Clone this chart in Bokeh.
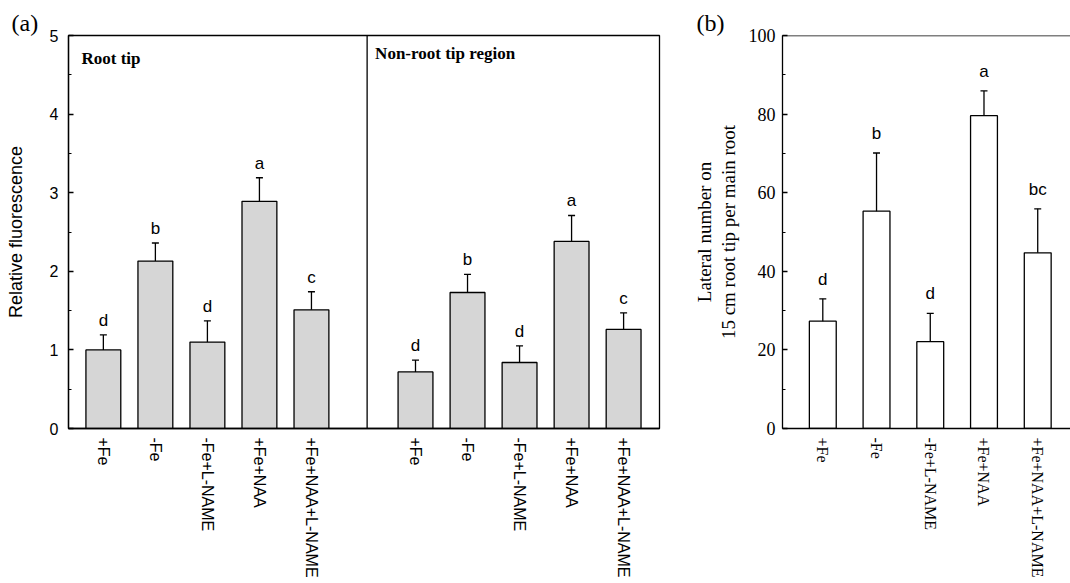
from bokeh.plotting import figure
from bokeh.models import (ColumnDataSource, Whisker, TeeHead, Span, FixedTicker,
                          SingleIntervalTicker, Range1d, Title, LinearAxis)
from bokeh.layouts import row
from bokeh.embed import file_html
from bokeh.resources import INLINE
from bokeh.core.properties import value

# ---------------- data ----------------
treatments = ["+Fe", "-Fe", "-Fe+L-NAME", "+Fe+NAA", "+Fe+NAA+L-NAME"]

root_tip = [1.00, 2.13, 1.10, 2.89, 1.51]
root_tip_err = [0.19, 0.23, 0.27, 0.30, 0.23]
root_tip_sig = ["d", "b", "d", "a", "c"]

nonroot_tip = [0.72, 1.73, 0.84, 2.38, 1.26]
nonroot_tip_err = [0.15, 0.23, 0.21, 0.33, 0.21]
nonroot_tip_sig = ["d", "b", "d", "a", "c"]

lateral = [27.3, 55.3, 22.1, 79.6, 44.7]
lateral_err = [5.7, 14.8, 7.2, 6.3, 11.2]
lateral_sig = ["d", "b", "d", "a", "bc"]

region_titles = ["Root tip", "Non-root tip region"]
y_label_a = "Relative fluorescence"
y_label_b1 = "Lateral number on"
y_label_b2 = "15 cm root tip per main root"

SANS = "Liberation Sans"
SERIF = "Liberation Serif"
H = 583

# ---------------- panel (a) ----------------
n = len(treatments)
xa = [i + 1 for i in range(n)] + [i + 7 for i in range(n)]
vals_a = root_tip + nonroot_tip
errs_a = root_tip_err + nonroot_tip_err
src_a = ColumnDataSource(dict(
    x=xa, top=vals_a,
    upper=[v + e for v, e in zip(vals_a, errs_a)],
    lower=[v - e for v, e in zip(vals_a, errs_a)],
    sig=root_tip_sig + nonroot_tip_sig,
))

xa_start, xa_end, divider = 0.33, 11.69, 6.07

pa = figure(width=690, height=H, output_backend="svg", toolbar_location=None,
            x_range=Range1d(xa_start, xa_end), y_range=Range1d(0, 5),
            min_border_left=68, min_border_right=31, min_border_top=35,
            min_border_bottom=155)
pa.vbar(x="x", top="top", width=0.67, bottom=0, source=src_a,
        fill_color="#d6d6d6", line_color="black", line_width=1.3)
wa = Whisker(base="x", upper="upper", lower="lower", source=src_a,
             line_color="black", line_width=1.3,
             upper_head=TeeHead(size=7, line_color="black", line_width=1.3),
             lower_head=TeeHead(size=7, line_color="black", line_width=1.3))
pa.add_layout(wa)
pa.text(x="x", y="upper", text="sig", source=src_a, text_align="center",
        text_baseline="bottom", y_offset=-5, text_font=value(SANS),
        text_font_size="17px", text_color="black")
pa.add_layout(Span(location=divider, dimension="height", line_color="black", line_width=1.3))
pa.text(x=[xa_start], y=[5], text=[region_titles[0]], x_offset=13, y_offset=13,
        text_baseline="top", text_align="left", text_font=value(SERIF),
        text_font_style="bold", text_font_size="17px", text_color="black")
pa.text(x=[divider], y=[5], text=[region_titles[1]], x_offset=8, y_offset=8,
        text_baseline="top", text_align="left", text_font=value(SERIF),
        text_font_style="bold", text_font_size="17px", text_color="black")

pa.title = Title(text="(a)", align="left", offset=-57, standoff=0,
                 text_font=SERIF, text_font_size="24px", text_font_style="normal",
                 text_color="black")

pa.xaxis.ticker = FixedTicker(ticks=xa)
pa.xaxis.major_label_overrides = {x: t for x, t in zip(xa, treatments + treatments)}
pa.xaxis.major_label_orientation = "vertical"
pa.xaxis.major_label_standoff = 9
pa.xaxis.major_label_text_font = SANS
pa.xaxis.major_label_text_font_size = "16px"
pa.xaxis.major_tick_line_color = None
pa.xaxis.minor_tick_line_color = None
pa.xaxis.major_tick_out = 0
pa.xaxis.major_tick_in = 0
pa.xaxis.minor_tick_out = 0

pa.yaxis.ticker = SingleIntervalTicker(interval=1, num_minor_ticks=2)
pa.yaxis.major_tick_in = 5
pa.yaxis.major_tick_out = 0
pa.yaxis.minor_tick_in = 3
pa.yaxis.minor_tick_out = 0
pa.yaxis.major_label_standoff = 10
pa.yaxis.major_label_text_font = SANS
pa.yaxis.major_label_text_font_size = "16px"
pa.yaxis.axis_label = y_label_a
pa.yaxis.axis_label_text_font = SANS
pa.yaxis.axis_label_text_font_size = "18px"
pa.yaxis.axis_label_text_font_style = "normal"
pa.yaxis.axis_label_standoff = 21

for ax in (pa.xaxis, pa.yaxis):
    ax.axis_line_color = "black"
    ax.axis_line_width = 1.3
    ax.major_tick_line_width = 1.3
    ax.major_label_text_color = "black"
    ax.axis_label_text_color = "black"
pa.xgrid.visible = False
pa.ygrid.visible = False
pa.outline_line_color = "black"
pa.outline_line_width = 1.3
pa.outline_line_alpha = 1

# ---------------- panel (b) ----------------
xb = [i + 1 for i in range(n)]
src_b = ColumnDataSource(dict(
    x=xb, top=lateral,
    upper=[v + e for v, e in zip(lateral, lateral_err)],
    lower=[v - e for v, e in zip(lateral, lateral_err)],
    sig=lateral_sig,
))

pb = figure(width=380, height=H, output_backend="svg", toolbar_location=None,
            x_range=Range1d(0.25, 5.61), y_range=Range1d(0, 100),
            min_border_left=89, min_border_right=0, min_border_top=35,
            min_border_bottom=155)
pb.vbar(x="x", top="top", width=0.5, bottom=0, source=src_b,
        fill_color="white", line_color="black", line_width=1.3)
wb = Whisker(base="x", upper="upper", lower="lower", source=src_b,
             line_color="black", line_width=1.3,
             upper_head=TeeHead(size=7, line_color="black", line_width=1.3),
             lower_head=TeeHead(size=7, line_color="black", line_width=1.3))
pb.add_layout(wb)
pb.text(x="x", y="upper", text="sig", source=src_b, text_align="center",
        text_baseline="bottom", y_offset=-10, text_font=value(SANS),
        text_font_size="17px", text_color="black")
pb.add_layout(Span(location=100, dimension="width", line_color="black", line_width=1.3))

pb.title = Title(text="(b)", align="left", offset=-86, standoff=0,
                 text_font=SERIF, text_font_size="24px", text_font_style="normal",
                 text_color="black")

pb.xaxis.ticker = FixedTicker(ticks=xb)
pb.xaxis.major_label_overrides = {x: t for x, t in zip(xb, treatments)}
pb.xaxis.major_label_orientation = "vertical"
pb.xaxis.major_label_standoff = 9
pb.xaxis.major_label_text_font = SERIF
pb.xaxis.major_label_text_font_size = "16px"
pb.xaxis.major_tick_line_color = None
pb.xaxis.minor_tick_line_color = None
pb.xaxis.major_tick_out = 0
pb.xaxis.major_tick_in = 0
pb.xaxis.minor_tick_out = 0

pb.yaxis.ticker = SingleIntervalTicker(interval=20, num_minor_ticks=2)
pb.yaxis.major_tick_in = 5
pb.yaxis.major_tick_out = 0
pb.yaxis.minor_tick_in = 3
pb.yaxis.minor_tick_out = 0
pb.yaxis.major_label_standoff = 7
pb.yaxis.major_label_text_font = SERIF
pb.yaxis.major_label_text_font_size = "18px"
pb.yaxis.axis_label = y_label_b2
pb.yaxis.axis_label_text_font = SERIF
pb.yaxis.axis_label_text_font_size = "19px"
pb.yaxis.axis_label_text_font_style = "normal"
pb.yaxis.axis_label_standoff = 7

for ax in (pb.xaxis, pb.yaxis):
    ax.axis_line_color = "black"
    ax.axis_line_width = 1.3
    ax.major_tick_line_width = 1.3
    ax.major_label_text_color = "black"
    ax.axis_label_text_color = "black"

# first label line as an extra, tickless axis on the left
label_axis = LinearAxis(ticker=FixedTicker(ticks=[]), axis_line_color=None,
                        major_tick_line_color=None, minor_tick_line_color=None,
                        major_tick_out=0, major_tick_in=0, minor_tick_out=0,
                        major_label_standoff=0, axis_label=y_label_b1,
                        axis_label_text_font=SERIF, axis_label_text_font_size="19px",
                        axis_label_text_font_style="normal", axis_label_standoff=0,
                        axis_label_text_color="black")
pb.add_layout(label_axis, "left")

pb.xgrid.visible = False
pb.ygrid.visible = False
pb.outline_line_color = None

layout = row(pa, pb)
open("out.html", "w").write(file_html(layout, INLINE))
